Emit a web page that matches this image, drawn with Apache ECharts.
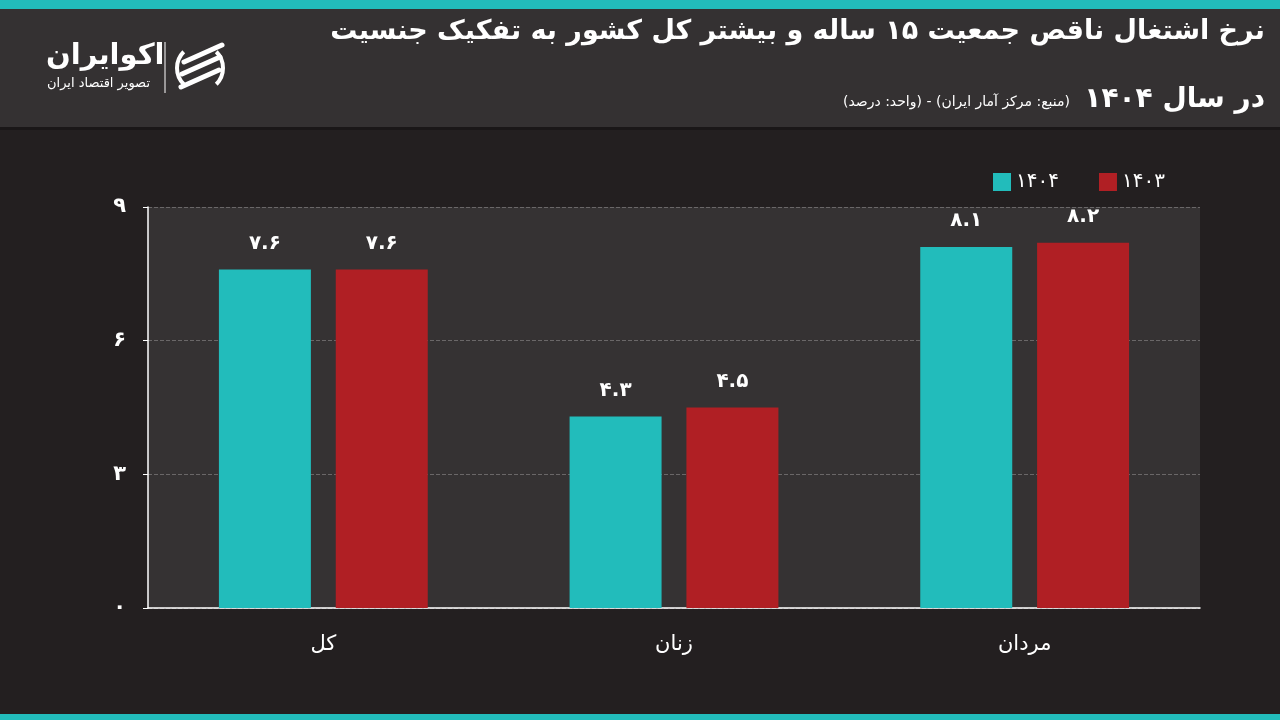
<!DOCTYPE html>
<html>
<head>
<meta charset="utf-8">
<script src="https://cdn.jsdelivr.net/npm/echarts@6/dist/echarts.min.js"></script>
<style>
html,body{margin:0;padding:0;background:#231f20;}
#main{width:1280px;height:720px;}
</style>
</head>
<body>
<div id="main"></div>
<script>
var categories = ['کل', 'زنان', 'مردان'];
var seriesNames = ['۱۴۰۴', '۱۴۰۳'];
var values1404 = [7.6, 4.3, 8.1];
var values1403 = [7.6, 4.5, 8.2];
var yTicks = [0, 3, 6, 9];

var FONT = 'DejaVu Sans';
// اعداد فارسی
function fa(v){
    return String(v).replace(/\d/g, function(d){ return '۰۱۲۳۴۵۶۷۸۹'[d]; });
}

var mychart = echarts.init(document.getElementById('main'));
mychart.setOption({
    backgroundColor: '#231f20',
    animation: false,
    graphic: [
        {type:'rect', shape:{x:0,y:0,width:1280,height:9}, style:{fill:'#22bcbb'}},
        {type:'rect', shape:{x:0,y:9,width:1280,height:118}, style:{fill:'#343132'}},
        {type:'rect', shape:{x:0,y:127,width:1280,height:3}, style:{fill:'#1a1718'}},
        {type:'rect', shape:{x:0,y:714,width:1280,height:6}, style:{fill:'#22bcbb'}},
        // عنوان
        {type:'text', right:15, top:18, style:{text:'نرخ اشتغال ناقص جمعیت ۱۵ ساله و بیشتر کل کشور به تفکیک جنسیت', fill:'#fff', font:'bold 27px "DejaVu Sans"'}},
        {type:'text', right:15, top:86, style:{text:'در سال ۱۴۰۴', fill:'#fff', font:'bold 28px "DejaVu Sans"'}},
        {type:'text', left:843, top:95, style:{text:'(واحد: درصد) - (منبع: مرکز آمار ایران)', fill:'#fff', font:'14px "DejaVu Sans"'}},
        // لوگو
        {type:'text', left:46, top:42, style:{text:'اکوایران', fill:'#fff', font:'bold 29px "DejaVu Sans"'}},
        {type:'text', left:47, top:77, style:{text:'تصویر اقتصاد ایران', fill:'#fff', font:'13px "DejaVu Sans"'}},
        {type:'line', shape:{x1:165,y1:42,x2:165,y2:93}, style:{stroke:'#fff', lineWidth:1}},
        {type:'arc', shape:{cx:200,cy:68,r:23,startAngle:Math.PI*0.75,endAngle:Math.PI*1.25}, style:{stroke:'#fff', lineWidth:4, fill:null}},
        {type:'arc', shape:{cx:200,cy:68,r:23,startAngle:-Math.PI*0.25,endAngle:Math.PI*0.25}, style:{stroke:'#fff', lineWidth:4, fill:null}},
        {type:'line', shape:{x1:184,y1:62,x2:222,y2:45}, style:{stroke:'#fff', lineWidth:5, lineCap:'round'}},
        {type:'line', shape:{x1:182,y1:74,x2:220,y2:57}, style:{stroke:'#fff', lineWidth:5, lineCap:'round'}},
        {type:'line', shape:{x1:181,y1:87,x2:219,y2:70}, style:{stroke:'#fff', lineWidth:5, lineCap:'round'}}
    ],
    legend: {
        data: seriesNames,
        left: 988,
        top: 167,
        icon: 'rect',
        itemWidth: 18,
        itemHeight: 18,
        itemGap: 40,
        textStyle: {color:'#fff', fontFamily:FONT, fontSize:20}
    },
    grid: {
        left: 148,
        right: 80,
        top: 207,
        bottom: 112,
        show: true,
        backgroundColor: '#353233',
        borderWidth: 0
    },
    xAxis: {
        type: 'category',
        data: categories,
        axisLine: {lineStyle:{color:'#fff', width:1.5}},
        axisTick: {show:false},
        axisLabel: {color:'#fff', fontFamily:FONT, fontSize:21, margin:26}
    },
    yAxis: {
        type: 'value',
        min: yTicks[0],
        max: yTicks[yTicks.length-1],
        interval: 3,
        axisLine: {show:true, lineStyle:{color:'#fff', width:1.5}},
        axisTick: {show:true, length:5, lineStyle:{color:'#fff'}},
        axisLabel: {color:'#fff', fontFamily:FONT, fontSize:21, fontWeight:'bold', margin:22,
            formatter:function(v){ return fa(v); }},
        splitLine: {lineStyle:{color:'#6a6768', type:'dashed'}}
    },
    series: [
        {
            name: seriesNames[0],
            type: 'bar',
            data: values1404,
            barWidth: 92,
            barGap: '27%',
            itemStyle: {color:'#22bcbb'},
            label: {show:true, position:'top', distance:16, color:'#fff', fontFamily:FONT, fontWeight:'bold', fontSize:20,
                formatter:function(p){ return fa(p.value); }}
        },
        {
            name: seriesNames[1],
            type: 'bar',
            data: values1403,
            barWidth: 92,
            itemStyle: {color:'#b01f24'},
            label: {show:true, position:'top', distance:16, color:'#fff', fontFamily:FONT, fontWeight:'bold', fontSize:20,
                formatter:function(p){ return fa(p.value); }}
        }
    ]
});
</script>
</body>
</html>
